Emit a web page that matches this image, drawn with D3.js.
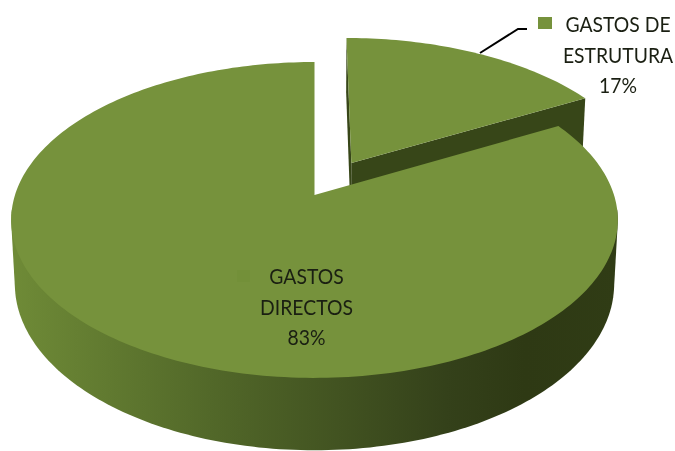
<!DOCTYPE html>
<html>
<head>
<meta charset="utf-8">
<script src="https://cdn.jsdelivr.net/npm/d3@7"></script>
<style>
body { margin: 0; background: #fff; }
svg { filter: blur(0.4px); }
text { font-family: Lato, sans-serif; font-size: 21.5px; fill: #1a1f12; text-anchor: middle; }
</style>
</head>
<body>
<div id="chart"></div>
<script>
// data
var categories = ["GASTOS DE ESTRUTURA", "GASTOS DIRECTOS"];
var values = [17, 83];
var labelLines = [["GASTOS DE", "ESTRUTURA", "17%"], ["GASTOS", "DIRECTOS", "83%"]];

var width = 675, height = 451;

// tilted disc, near side bigger than far side
var cx = 314.5, cy = 195, rx = 299.5, ry = 154, depth = 64;
var persp = 0.158, perspZ = 0.012, explode = 0.25;

function project(u, v, z) {
    var w = 1 - persp * v + perspZ * z;
    return [cx + rx * u / w, cy + (ry * v + depth * z) / w];
}

var line = d3.line();
var svg = d3.select("#chart").append("svg")
    .attr("width", width)
    .attr("height", height);

var defs = svg.append("defs");
var grad = defs.append("linearGradient")
    .attr("id", "wall")
    .attr("gradientUnits", "userSpaceOnUse")
    .attr("x1", 10).attr("x2", 616).attr("y1", 0).attr("y2", 0);
grad.append("stop").attr("offset", "0").attr("stop-color", "#6f8b37");
grad.append("stop").attr("offset", "0.33").attr("stop-color", "#526829");
grad.append("stop").attr("offset", "0.72").attr("stop-color", "#34411a");
grad.append("stop").attr("offset", "0.85").attr("stop-color", "#2e3914");
grad.append("stop").attr("offset", "1").attr("stop-color", "#303c15");

var pie = d3.pie().sort(null);
var arcs = pie(values);

// points along the rim, angle 0 is 12 o'clock
function rim(a0, a1, off, z) {
    var n = Math.ceil(Math.abs(a1 - a0) / 0.02);
    return d3.range(n + 1).map(function(i) {
        var a = a0 + (a1 - a0) * i / n;
        return project(Math.sin(a) + off[0], -Math.cos(a) + off[1], z);
    });
}

function offsetOf(d, amount) {
    var mid = (d.startAngle + d.endAngle) / 2;
    return [Math.sin(mid) * amount, -Math.cos(mid) * amount];
}

function drawSlice(d, amount) {
    var off = offsetOf(d, amount);
    var apex = project(off[0], off[1], 0);
    var apexLow = project(off[0], off[1], 1);
    var top = rim(d.startAngle, d.endAngle, off, 0);
    var low = rim(d.startAngle, d.endAngle, off, 1);
    var g = svg.append("g");
    var dark = "#374618";

    if (amount > 0) {
        // cut faces of the pulled out slice
        g.append("path")
            .attr("d", line([top[0], apex, apexLow, low[0]]) + "Z")
            .attr("fill", dark);
        g.append("path")
            .attr("d", line([apex, top[top.length - 1], low[low.length - 1], apexLow]) + "Z")
            .attr("fill", dark);
    } else {
        // outer wall, hull closes the gap between top and bottom rim; the top face hides the rest
        var front = rim(Math.PI * 0.53, Math.PI * 1.47, off, 0)
            .concat(rim(Math.PI * 0.53, Math.PI * 1.47, off, 1));
        g.append("path")
            .attr("d", line(d3.polygonHull(front)) + "Z")
            .attr("fill", "url(#wall)");
    }
    g.append("path")
        .attr("d", line([apex].concat(top)) + "Z")
        .attr("fill", "#76923c");
}

drawSlice(arcs[0], explode);
drawSlice(arcs[1], 0);

// leader and legend key
svg.append("path")
    .attr("d", line([[480, 53], [518, 29], [527, 29]]))
    .attr("fill", "none")
    .attr("stroke", "#000")
    .attr("stroke-width", 2);
svg.append("rect")
    .attr("x", 538).attr("y", 17).attr("width", 14).attr("height", 12)
    .attr("fill", "#76923c");
svg.append("rect")
    .attr("x", 237).attr("y", 270).attr("width", 13).attr("height", 12)
    .attr("fill", "#739039");

function drawLabel(lines, x, y) {
    svg.selectAll(null)
        .data(lines)
        .enter()
        .append("text")
        .attr("transform", function(d, i) {
            return "translate(" + x + "," + (y + i * 30.5) + ") scale(0.9,1)";
        })
        .text(function(d) { return d; });
}
drawLabel(labelLines[0], 618, 32);
drawLabel(labelLines[1], 306.5, 284);
</script>
</body>
</html>
